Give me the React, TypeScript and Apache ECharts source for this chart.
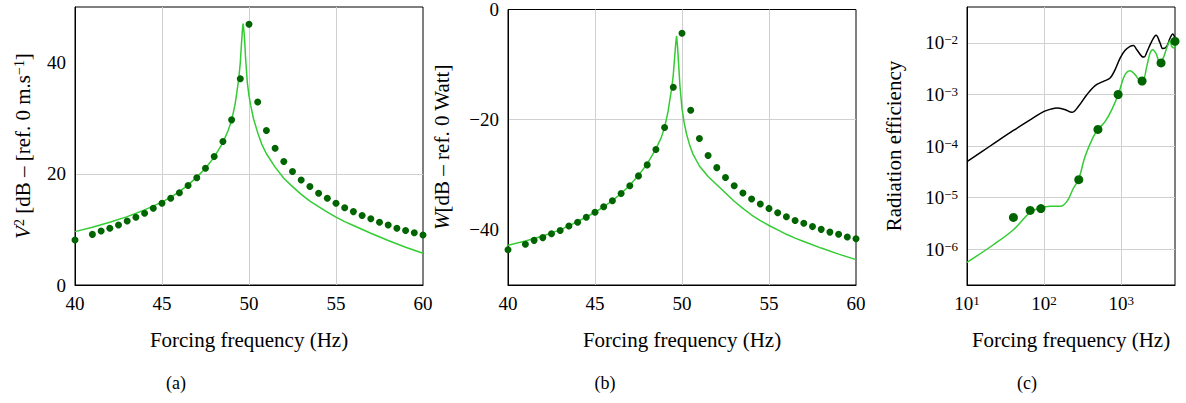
import React, { useEffect, useRef } from 'react';
import * as echarts from 'echarts';

const FONT = '"Liberation Serif", "DejaVu Serif", serif';
const LINE_GREEN = '#33cc33';
const DOT_GREEN = '#006400';
const GRID_GRAY = '#d0d0d0';

// Panel (a): V^2 response
const aDotsX = [40, 41, 41.5, 42, 42.5, 43, 43.5, 44, 44.5, 45, 45.5, 46, 46.5, 47, 47.5, 48, 48.5, 49, 49.5, 50, 50.5, 51, 51.5, 52, 52.5, 53, 53.5, 54, 54.5, 55, 55.5, 56, 56.5, 57, 57.5, 58, 58.5, 59, 59.5, 60];
const aDotsY = [8.1, 9.1, 9.7, 10.2, 10.8, 11.5, 12.2, 12.9, 13.8, 14.7, 15.6, 16.6, 17.9, 19.3, 21.0, 23.1, 25.8, 29.7, 37.1, 46.9, 32.9, 27.8, 24.6, 22.2, 20.4, 18.9, 17.7, 16.5, 15.6, 14.7, 13.9, 13.2, 12.5, 11.9, 11.3, 10.8, 10.2, 9.8, 9.4, 9.0];
const aLineX = [40, 41, 42, 43, 44, 45, 45.5, 46, 46.5, 47, 47.5, 48, 48.5, 48.8, 49, 49.2, 49.3, 49.41, 49.5, 49.58, 49.63, 49.66, 49.7, 49.75, 49.8, 49.9, 50, 50.1, 50.25, 50.5, 50.75, 51, 51.5, 52, 52.5, 53, 53.5, 54, 54.5, 55, 55.5, 56, 57, 58, 59, 60];
const aLineY = [9.6, 10.4, 11.3, 12.3, 13.5, 14.9, 15.8, 16.8, 18.0, 19.4, 21.0, 23.0, 25.6, 27.8, 29.6, 32.5, 34.6, 37.1, 40.0, 44.0, 46.2, 47.0, 46.0, 44.0, 41.0, 36.5, 34.0, 32.3, 30.0, 27.4, 25.2, 23.6, 21.2, 19.2, 17.7, 16.3, 15.1, 14.1, 13.1, 12.2, 11.4, 10.7, 9.3, 8.0, 6.8, 5.7];

// Panel (b): W response
const bDotsX = aDotsX;
const bDotsY = [-43.6, -42.6, -41.9, -41.4, -40.7, -40.1, -39.3, -38.6, -37.7, -36.8, -35.8, -34.7, -33.4, -32.0, -30.2, -28.2, -25.4, -21.4, -14.1, -4.3, -18.3, -23.4, -26.5, -28.7, -30.5, -32.0, -33.3, -34.4, -35.3, -36.1, -36.9, -37.6, -38.3, -38.8, -39.4, -39.9, -40.4, -40.8, -41.3, -41.6];
const bLineX = [40, 41, 42, 43, 44, 45, 45.5, 46, 46.5, 47, 47.5, 48, 48.5, 48.8, 49, 49.2, 49.3, 49.42, 49.5, 49.58, 49.64, 49.69, 49.74, 49.8, 49.88, 50, 50.12, 50.26, 50.45, 50.64, 51, 51.5, 52, 52.5, 53, 53.5, 54, 54.5, 55, 55.5, 56, 56.5, 57, 58, 59, 60];
const bLineY = [-42.8, -42.0, -41.1, -40.0, -38.5, -36.8, -35.8, -34.7, -33.4, -31.9, -30.1, -28.0, -25.3, -23.3, -21.4, -18.5, -16.4, -14.1, -11.8, -8.6, -6.2, -4.8, -6.6, -9.6, -13.8, -18.0, -20.5, -22.6, -24.7, -26.3, -28.4, -30.3, -31.8, -33.3, -34.8, -36.1, -37.3, -38.3, -39.2, -40.0, -40.8, -41.5, -42.1, -43.3, -44.4, -45.4];

// Panel (c): radiation efficiency
const cBlackX = [10, 20, 40, 70, 100, 125, 147, 185, 230, 280, 359, 460, 590, 720, 835, 970, 1127, 1308, 1445, 1597, 1854, 1987, 2152, 2497, 2842, 3202, 3466, 3906, 4315, 4674, 5000];
const cBlackY = [5.0e-5, 1.0e-4, 2.0e-4, 3.4e-4, 4.7e-4, 5.25e-4, 5.47e-4, 5.1e-4, 4.5e-4, 5.9e-4, 9.9e-4, 1.49e-3, 1.8e-3, 2.09e-3, 3.03e-3, 5.1e-3, 7.2e-3, 8.6e-3, 8.9e-3, 7.4e-3, 5.5e-3, 5.35e-3, 6.6e-3, 1.08e-2, 1.41e-2, 1.0e-2, 7.8e-3, 8.6e-3, 1.25e-2, 1.5e-2, 1.25e-2];
const cGreenX = [10, 22, 40, 66, 89, 120, 162, 198, 241, 280, 341, 438, 508, 621, 757, 923, 1072, 1184, 1308, 1519, 1763, 1909, 2152, 2377, 2573, 2842, 3141, 3466, 3906, 4315, 4538, 4863, 5000];
const cGreenY = [5.5e-7, 1.21e-6, 2.37e-6, 5.15e-6, 6.25e-6, 6.74e-6, 6.74e-6, 8.4e-6, 1.53e-5, 2.22e-5, 6.3e-5, 1.54e-4, 2.14e-4, 3.0e-4, 5.1e-4, 1.02e-3, 2.09e-3, 2.69e-3, 2.9e-3, 2.43e-3, 1.86e-3, 1.86e-3, 3.52e-3, 6.4e-3, 7.43e-3, 6.2e-3, 4.4e-3, 4.9e-3, 8.0e-3, 1.11e-2, 8.6e-3, 8.0e-3, 1.0e-2];
const cDotsX = [40, 66, 91, 282, 500, 914, 1870, 3296, 5000];
const cDotsY = [4.1e-6, 5.6e-6, 6.1e-6, 2.22e-5, 2.1e-4, 1.0e-3, 1.83e-3, 4.1e-3, 1.08e-2];

const aYTicks = [0, 20, 40];
const bYTicks = [-40, -20, 0];
const xLinTicks = [40, 45, 50, 55, 60];

const xName = 'Forcing frequency (Hz)';
const captions = ['(a)', '(b)', '(c)'];

const zip = (xs: number[], ys: number[]) => xs.map((x, i) => [x, ys[i]]);

const fmtMinus = (v: number) => (v < 0 ? '\u2212' + Math.abs(v) : String(v));

const supRich = {
  b: { fontFamily: FONT, fontSize: 19, color: '#000' },
  s: { fontFamily: FONT, fontSize: 13, color: '#000', verticalAlign: 'top' },
};

const logFmt = (v: number) => {
  const e = Math.log10(v);
  const r = Math.round(e);
  if (Math.abs(e - r) > 1e-6) return '';
  return `{b|10}{s|${r < 0 ? '\u2212' + Math.abs(r) : r}}`;
};

const nameRich = {
  n: { fontFamily: FONT, fontSize: 21, color: '#000' },
  i: { fontFamily: FONT, fontSize: 21, color: '#000', fontStyle: 'italic' },
  s: { fontFamily: FONT, fontSize: 14, color: '#000', verticalAlign: 'top' },
};

const axisLine = { show: true, onZero: false, lineStyle: { color: '#000', width: 1 } };
const splitLine = { show: true, showMinLine: false, showMaxLine: false, lineStyle: { color: GRID_GRAY, width: 1 } };
const tickLabel = { fontFamily: FONT, fontSize: 19, color: '#000', margin: 9 };
const plainName = { fontFamily: FONT, fontSize: 21, color: '#000' };
const richName = { ...plainName, rich: nameRich };

export default function App() {
  const ref = useRef<HTMLDivElement>(null);
  useEffect(() => {
    document.body.style.margin = '0';
    const chart = echarts.init(ref.current!, null, { renderer: 'svg' });
    const grids = [
      { left: 75, top: 7, width: 348, height: 278 },
      { left: 508, top: 7, width: 348, height: 278 },
      { left: 967, top: 7, width: 208, height: 278 },
    ].map((g) => ({ ...g, show: true, borderColor: '#000', borderWidth: 1, backgroundColor: 'transparent' }));

    const linX = (gi: number) => ({
      type: 'value',
      gridIndex: gi,
      min: 40,
      max: 60,
      axisLine,
      axisTick: { show: false, customValues: xLinTicks },
      axisLabel: { ...tickLabel, customValues: xLinTicks },
      splitLine,
      name: xName,
      nameLocation: 'middle',
      nameGap: 44,
      nameTextStyle: plainName,
    });

    const option: any = {
      animation: false,
      grid: grids,
      xAxis: [
        linX(0),
        linX(1),
        {
          type: 'log',
          logBase: 10,
          gridIndex: 2,
          min: 10,
          max: 5000,
          axisLine,
          axisTick: { show: false },
          axisLabel: { ...tickLabel, formatter: logFmt, rich: supRich, showMinLabel: true, showMaxLabel: false },
          splitLine,
          name: xName,
          nameLocation: 'middle',
          nameGap: 44,
          nameTextStyle: plainName,
        },
      ],
      yAxis: [
        {
          type: 'value',
          gridIndex: 0,
          min: 0,
          max: 50,
          axisLine,
          axisTick: { show: false, customValues: aYTicks },
          axisLabel: { ...tickLabel, customValues: aYTicks, formatter: fmtMinus },
          splitLine,
          name: '{i|V}{s|2}{n| [dB \u2013 [ref. 0 m.s}{s|\u22121}{n|]}',
          nameLocation: 'middle',
          nameRotate: 90,
          nameGap: 42,
          nameTextStyle: richName,
        },
        {
          type: 'value',
          gridIndex: 1,
          min: -50,
          max: 0,
          axisLine,
          axisTick: { show: false, customValues: bYTicks },
          axisLabel: { ...tickLabel, customValues: bYTicks, formatter: fmtMinus },
          splitLine,
          name: '{i|W}{n|[dB \u2013 ref. 0 Watt]}',
          nameLocation: 'middle',
          nameRotate: 90,
          nameGap: 56,
          nameTextStyle: richName,
        },
        {
          type: 'log',
          logBase: 10,
          gridIndex: 2,
          min: 2e-7,
          max: 0.05,
          axisLine,
          axisTick: { show: false },
          axisLabel: { ...tickLabel, formatter: logFmt, rich: supRich, showMinLabel: false, showMaxLabel: false },
          splitLine,
          name: 'Radiation efficiency',
          nameLocation: 'middle',
          nameRotate: 90,
          nameGap: 63,
          nameTextStyle: plainName,
        },
      ],
      series: [
        { type: 'line', xAxisIndex: 0, yAxisIndex: 0, data: zip(aLineX, aLineY), symbol: 'none', lineStyle: { color: LINE_GREEN, width: 1.5 }, z: 2 },
        { type: 'scatter', xAxisIndex: 0, yAxisIndex: 0, data: zip(aDotsX, aDotsY), symbolSize: 7, itemStyle: { color: DOT_GREEN, opacity: 1 }, clip: false, z: 3 },
        { type: 'line', xAxisIndex: 1, yAxisIndex: 1, data: zip(bLineX, bLineY), symbol: 'none', lineStyle: { color: LINE_GREEN, width: 1.5 }, z: 2 },
        { type: 'scatter', xAxisIndex: 1, yAxisIndex: 1, data: zip(bDotsX, bDotsY), symbolSize: 7, itemStyle: { color: DOT_GREEN, opacity: 1 }, clip: false, z: 3 },
        { type: 'line', xAxisIndex: 2, yAxisIndex: 2, data: zip(cBlackX, cBlackY), symbol: 'none', smooth: 0.35, lineStyle: { color: '#000', width: 1.5 }, z: 2 },
        { type: 'line', xAxisIndex: 2, yAxisIndex: 2, data: zip(cGreenX, cGreenY), symbol: 'none', smooth: 0.35, lineStyle: { color: LINE_GREEN, width: 1.5 }, z: 2 },
        { type: 'scatter', xAxisIndex: 2, yAxisIndex: 2, data: zip(cDotsX, cDotsY), symbolSize: 9, itemStyle: { color: DOT_GREEN, opacity: 1 }, clip: false, z: 3 },
      ],
      graphic: captions.map((t, i) => ({
        type: 'text',
        x: [176, 605, 1027][i],
        y: 383,
        style: { text: t, fontFamily: FONT, fontSize: 18, fill: '#000', align: 'center', verticalAlign: 'middle' },
      })),
    };
    chart.setOption(option);
    return () => chart.dispose();
  }, []);
  return <div ref={ref} style={{ width: 1186, height: 403 }} />;
}
